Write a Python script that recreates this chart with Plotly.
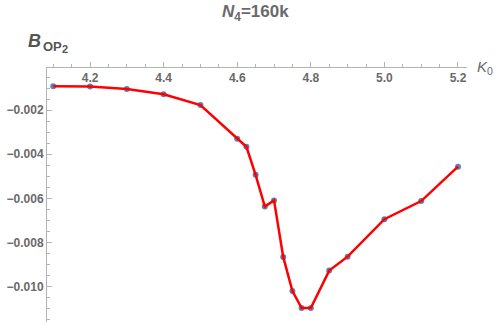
import plotly.graph_objects as go

k0 = [4.1, 4.2, 4.3, 4.4, 4.5, 4.6, 4.625, 4.65, 4.675, 4.7, 4.725, 4.75, 4.775, 4.8, 4.85, 4.9, 5.0, 5.1, 5.2]
b_op2 = [-0.00092, -0.00093, -0.00104, -0.00128, -0.00177, -0.00330, -0.00366, -0.00493, -0.00637, -0.00609,
         -0.00865, -0.01020, -0.01097, -0.01097, -0.00927, -0.00864, -0.00694, -0.00612, -0.00456]
x_ticks = [4.2, 4.4, 4.6, 4.8, 5.0, 5.2]
y_ticks = [-0.002, -0.004, -0.006, -0.008, -0.010]

gray = "#6a6a6a"
axcol = "#b3b3b3"
font = "Liberation Sans"

fig = go.Figure()
fig.add_trace(go.Scatter(x=k0, y=b_op2, mode="markers",
                         marker=dict(color="#5E81B5", size=6), showlegend=False))
fig.add_trace(go.Scatter(x=k0, y=b_op2, mode="lines",
                         line=dict(color="#ff0000", width=2.5), showlegend=False))

L, R, T, B = 47, 33, 67, 2
W, H = 500, 324
pw, ph = W - L - R, H - T - B
def px(xp): return (xp - L) / pw
def py(yp): return (H - B - yp) / ph

fig.update_layout(
    width=W, height=H,
    margin=dict(l=L, r=R, t=T, b=B, autoexpand=False),
    plot_bgcolor="white", paper_bgcolor="white",
    font=dict(family=font, color=gray, size=12),
    xaxis=dict(range=[4.083, 5.2245], side="bottom", anchor="free", position=1.0,
               automargin=False, showgrid=False, zeroline=False,
               showline=True, linecolor=axcol, linewidth=1,
               tickvals=x_ticks, ticktext=[f"<b>{v:.1f}</b>" for v in x_ticks],
               ticks="inside", ticklen=5, tickcolor=axcol,
               minor=dict(dtick=0.05, tick0=4.0, ticks="inside", ticklen=3, tickcolor=axcol),
               tickfont=dict(family=font, color=gray, size=12)),
    yaxis=dict(range=[-0.0116, -0.000045], automargin=False, showgrid=False, zeroline=False,
               showline=True, linecolor=axcol, linewidth=1,
               tickvals=y_ticks, ticktext=[f"<b>−{abs(v):.3f}</b>" for v in y_ticks],
               ticks="inside", ticklen=5, tickcolor=axcol,
               minor=dict(dtick=0.0005, tick0=0, ticks="inside", ticklen=3, tickcolor=axcol),
               tickfont=dict(family=font, color=gray, size=12)),
    annotations=[
        dict(text="<b><i>N</i><sub>4</sub>=160k</b>", xref="paper", yref="paper",
             x=px(255), y=py(13), xanchor="center", yanchor="middle",
             showarrow=False, font=dict(size=17, color=gray, family=font)),
        dict(text="<b><i>B</i></b>", xref="paper", yref="paper",
             x=px(26), y=py(41), xanchor="left", yanchor="middle", showarrow=False,
             font=dict(size=18, color="#555555", family=font)),
        dict(text="<b>OP</b>", xref="paper", yref="paper",
             x=px(41), y=py(46), xanchor="left", yanchor="middle", showarrow=False,
             font=dict(size=13, color="#555555", family=font)),
        dict(text="<b>2</b>", xref="paper", yref="paper",
             x=px(60), y=py(49), xanchor="left", yanchor="middle", showarrow=False,
             font=dict(size=11, color="#555555", family=font)),
        dict(text="<i>K</i><sub>0</sub>", xref="paper", yref="paper",
             x=px(475), y=py(67), xanchor="left", yanchor="middle", showarrow=False,
             font=dict(size=15, color=gray, family=font)),
    ],
)

fig.write_html("out.html", config={"displayModeBar": False, "staticPlot": True},
               post_script="document.body.style.margin='0';document.body.style.overflow='hidden';")
